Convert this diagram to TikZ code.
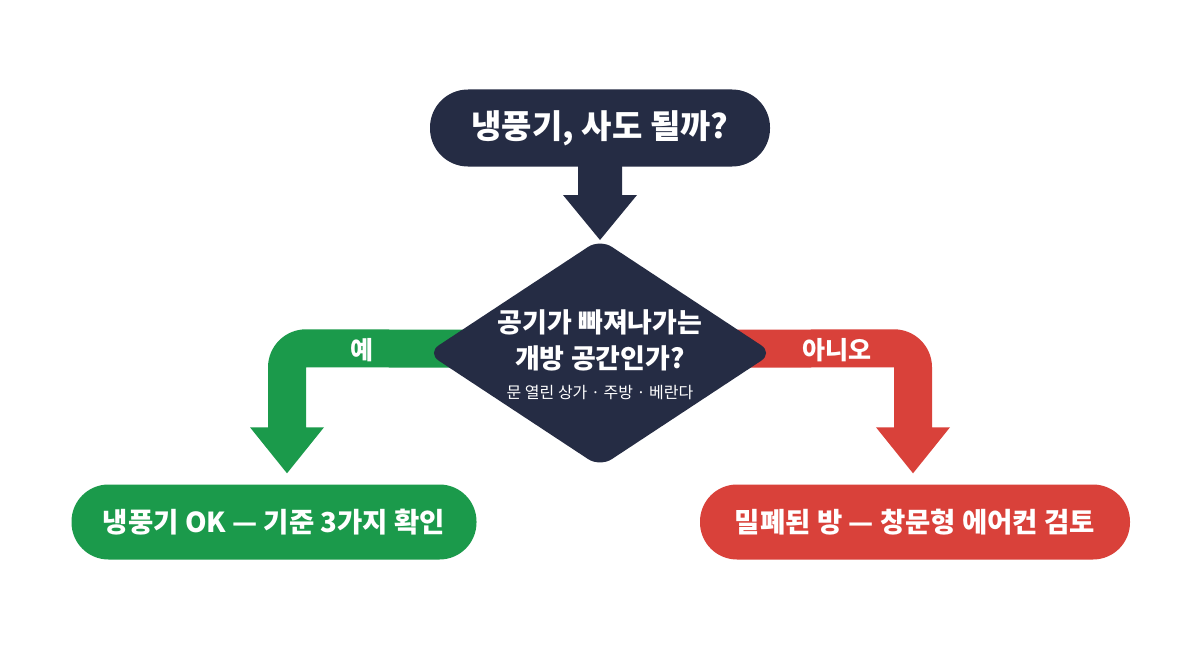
\documentclass[tikz,border=0pt]{standalone}
\usepackage{fontspec}
\setmainfont{Noto Sans CJK KR}
\usetikzlibrary{calc,shapes.geometric}
\definecolor{navy}{HTML}{252C44}
\definecolor{okgreen}{HTML}{1B9A4B}
\definecolor{nored}{HTML}{D9413A}
\begin{document}
\begin{tikzpicture}[x=1pt,y=-1pt,
  pill/.style={rounded corners=37pt, minimum height=75pt, inner sep=0pt, text=white,
    font=\bfseries\fontsize{27.5}{32}\selectfont},
  qline/.style={text=white, inner sep=0pt, font=\bfseries\fontsize{27}{31}\selectfont},
  qsub/.style={text=white, inner sep=0pt, font=\fontsize{16}{19}\selectfont},
  blabel/.style={text=white, inner sep=0pt, font=\bfseries\fontsize{25}{29}\selectfont}]
\useasboundingbox[fill=white] (0,0) rectangle (1200,669);

% nodes
\node[pill, fill=navy, minimum width=340pt, minimum height=77pt, rounded corners=38pt,
  font=\bfseries\fontsize{33}{38}\selectfont] (title) at (600,128) {냉풍기, 사도 될까?};
\node[pill, fill=okgreen, minimum width=405pt] (yes) at (274,522) {냉풍기 OK — 기준 3가지 확인};
\node[pill, fill=nored, minimum width=430pt] (no) at (915,522) {밀폐된 방 — 창문형 에어컨 검토};

% diamond position reference
\coordinate (qc) at (600,353);

% arrow from title to diamond
\fill[navy] ($(title.south)+(-22,-2)$) -- ($(title.south)+(22,-2)$)
  -- ($(qc)+(22,-158)$) -- ($(qc)+(37,-158)$) -- ($(qc)+(0,-113)$)
  -- ($(qc)+(-37,-158)$) -- ($(qc)+(-22,-158)$) -- cycle;

% yes arrow (green)
\coordinate (ytip) at ($(yes.north)+(13,-11)$);
\fill[okgreen] (qc|-0,330) -- ($(ytip)+(19,-144)$)
  .. controls ($(ytip)+(-2,-144)$) and ($(ytip)+(-19,-127)$) .. ($(ytip)+(-19,-106)$)
  -- ($(ytip)+(-19,-46)$) -- ($(ytip)+(-37,-46)$) -- (ytip) -- ($(ytip)+(37,-46)$)
  -- ($(ytip)+(19,-46)$) -- ($(ytip)+(19,-106)$) -- (qc|-0,368) -- cycle;

% no arrow (red)
\coordinate (ntip) at ($(no.north)+(-2,-11)$);
\fill[nored] (qc|-0,330) -- ($(ntip)+(-19,-144)$)
  .. controls ($(ntip)+(2,-144)$) and ($(ntip)+(19,-127)$) .. ($(ntip)+(19,-106)$)
  -- ($(ntip)+(19,-46)$) -- ($(ntip)+(37,-46)$) -- (ntip) -- ($(ntip)+(-37,-46)$)
  -- ($(ntip)+(-19,-46)$) -- ($(ntip)+(-19,-106)$) -- (qc|-0,368) -- cycle;

% diamond
\node[diamond, fill=navy, minimum width=346pt, minimum height=228pt, inner sep=0pt,
  rounded corners=14pt] (q) at (qc) {};
\node[qline] (q1) at (600,322) {공기가 빠져나가는};
\node[qline] (q2) at (600,358) {개방 공간인가?};
\node[qsub] (q3) at (600,393) {문 열린 상가 · 주방 · 베란다};

% branch labels
\node[blabel] (ly) at (362,350) {예};
\node[blabel] (ln) at (837,350) {아니오};
\end{tikzpicture}
\end{document}
